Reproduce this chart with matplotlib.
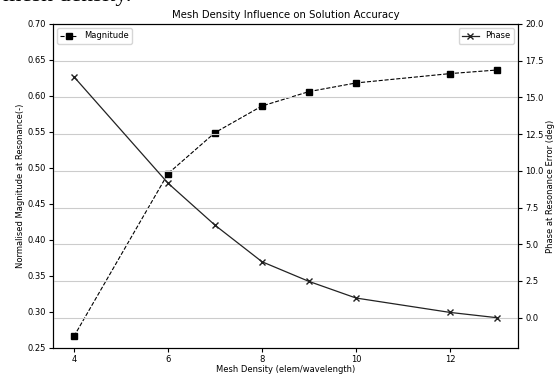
import numpy as np
import matplotlib
matplotlib.use("Agg")
import matplotlib.pyplot as plt

mesh_density = [4, 6, 7, 8, 9, 10, 12, 13]
magnitude = [0.266, 0.492, 0.549, 0.586, 0.606, 0.618, 0.631, 0.636]
phase_error = [16.4, 9.16, 6.3, 3.81, 2.47, 1.34, 0.36, 0.0]

plt.rcParams['font.size'] = 6
plt.rcParams['xtick.major.pad'] = 2
plt.rcParams['ytick.major.pad'] = 2
plt.rcParams['xtick.major.size'] = 3
plt.rcParams['ytick.major.size'] = 3

fig, ax1 = plt.subplots(figsize=(5.56, 3.74), dpi=100)
fig.subplots_adjust(left=0.095, right=0.932, top=0.936, bottom=0.07)

# caption text from the surrounding page, clipped at the top edge
fig.text(0.005, 1.012, "mesh density.", family="Liberation Serif", fontsize=17, va="center")

l1, = ax1.plot(mesh_density, magnitude, "--", color="black", marker="s", markersize=4,
               linewidth=0.8, label="Magnitude")
ax1.set_ylim(0.25, 0.70)
ax1.set_ylabel("Normalised Magnitude at Resonance(-)", labelpad=2)
ax1.set_xlabel("Mesh Density (elem/wavelength)", labelpad=1)
ax1.set_xticks([4, 6, 8, 10, 12])
ax1.set_yticks(np.arange(0.25, 0.701, 0.05))
ax1.legend(loc="upper left")

ax2 = ax1.twinx()
l2, = ax2.plot(mesh_density, phase_error, "-", color="#222222", marker="x", markersize=4,
               linewidth=0.9, label="Phase")
ax2.set_ylim(-2.05, 20)
ax2.set_yticks(np.arange(0, 20.01, 2.5))
ax2.set_ylabel("Phase at Resonance Error (deg)", labelpad=2)
ax2.grid(True, axis="y", color="#cccccc", linewidth=0.8)
ax2.legend(loc="upper right")

ax1.set_title("Mesh Density Influence on Solution Accuracy", fontsize=7.3, pad=4)

plt.savefig("out.png", dpi=100)
